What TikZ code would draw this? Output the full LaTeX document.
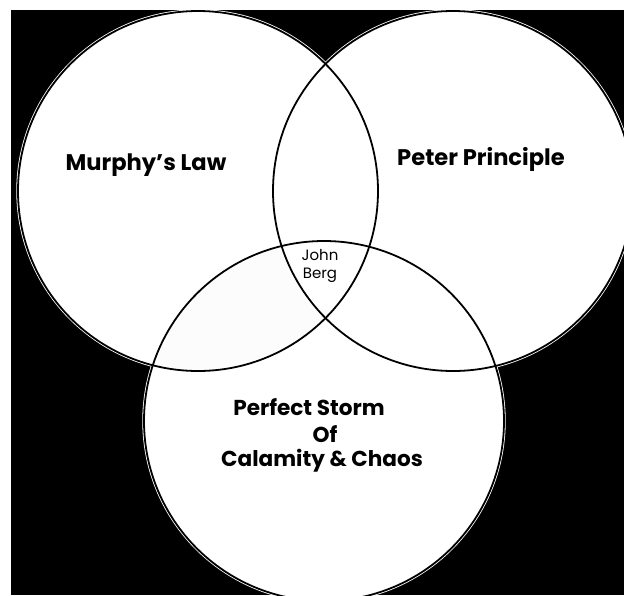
\documentclass[tikz,border=0pt]{standalone}
\usepackage{fontspec}
\setmainfont{Poppins}
\begin{document}
\begin{tikzpicture}[x=1pt,y=-1pt,
  ring/.style={draw=black,line width=1.8pt},
  halo/.style={draw=white,line width=3.4pt},
  big/.style={font=\bfseries\fontsize{22.6}{26}\selectfont,inner sep=0pt},
  mid/.style={font=\bfseries\fontsize{21.6}{26}\selectfont,inner sep=0pt},
  small/.style={font=\fontsize{15}{18}\selectfont,inner sep=0pt,align=center}]
\useasboundingbox (0,0) rectangle (624,595);
\fill[white] (0,0) rectangle (624,595);
\fill[black] (11,10) rectangle (624,595);
\begin{scope}
\clip (11,10) rectangle (624,595);
\coordinate (cl) at (198,191);
\coordinate (cr) at (453,191);
\coordinate (cb) at (324,421);
\def\rr{180}
\foreach \c in {cl,cr,cb} \fill[white] (\c) circle (\rr);
\begin{scope}
\clip (cl) circle (\rr);
\fill[gray!2] (cb) circle (\rr);
\end{scope}
\begin{scope}
\clip (cl) circle (\rr);
\clip (cr) circle (\rr);
\fill[white] (cb) circle (\rr);
\end{scope}
\foreach \c in {cl,cr,cb} \draw[halo] (\c) circle (\rr);
\foreach \c in {cl,cr,cb} \draw[ring] (\c) circle (\rr);
\end{scope}
\node[big] (murphy) at (146,165) {Murphy's Law};
\node[big] (peter) at (481,159) {Peter Principle};
\node[mid] (storm1) at (309,407) {Perfect Storm};
\node[mid] (storm2) at (325,434) {Of};
\node[mid] (storm3) at (322,461) {Calamity \& Chaos};
\node[small] (john) at (320,266) {John\\Berg};
\end{tikzpicture}
\end{document}
